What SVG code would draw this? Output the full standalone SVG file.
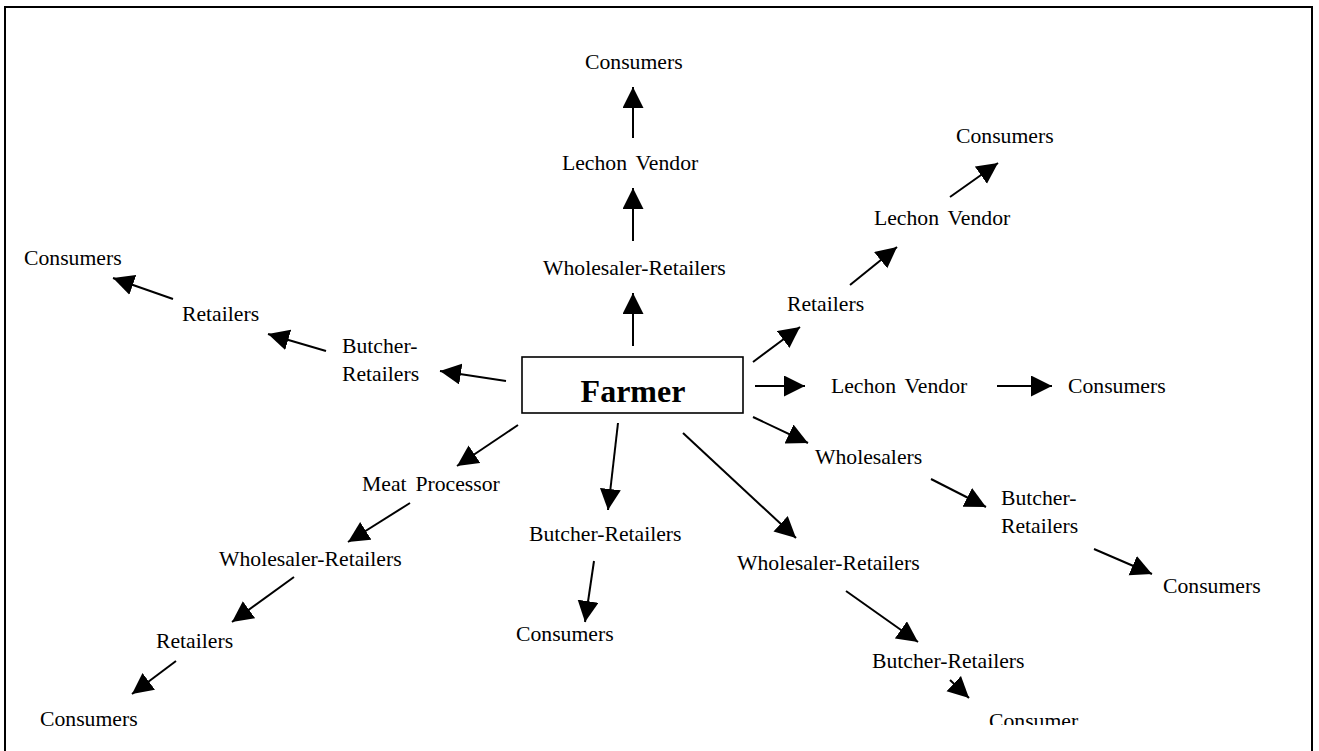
<svg xmlns="http://www.w3.org/2000/svg" width="1319" height="751" viewBox="0 0 1319 751">
<style>
text{font-family:"Liberation Serif","Times New Roman",serif;font-size:21.7px;fill:#000}
.lv{word-spacing:3.5px}
.farmer{font-size:32px;font-weight:bold}
.arr{stroke:#000;stroke-width:2;fill:none;marker-end:url(#ah)}
</style>
<defs>
<marker id="ah" markerUnits="userSpaceOnUse" markerWidth="22" markerHeight="22" refX="21" refY="10.5" orient="auto">
<path d="M0,0 L21,10.5 L0,21 z" fill="#000"/>
</marker>
<clipPath id="clipc"><rect x="900" y="690" width="250" height="35"/></clipPath>
</defs>
<rect width="1319" height="751" fill="#fff"/>
<path d="M5,751 V7 H1312 V751" fill="none" stroke="#000" stroke-width="2"/>

<g id="farmer">
<rect x="522" y="357" width="221" height="56" fill="#fff" stroke="#000" stroke-width="1.6"/>
<text class="farmer" x="633" y="402" text-anchor="middle">Farmer</text>
</g>

<g id="n-top-consumers"><text x="585" y="69">Consumers</text></g>
<g id="n-top-lechon"><text class="lv" x="562" y="170">Lechon Vendor</text></g>
<g id="n-top-wr"><text x="543" y="275">Wholesaler-Retailers</text></g>

<g id="n-l-consumers"><text x="24" y="265">Consumers</text></g>
<g id="n-l-retailers"><text x="182" y="321">Retailers</text></g>
<g id="n-l-butcher"><text x="342" y="353">Butcher-</text><text x="342" y="381">Retailers</text></g>

<g id="n-meat"><text class="lv" x="362" y="491">Meat Processor</text></g>
<g id="n-bl-wr"><text x="219" y="566">Wholesaler-Retailers</text></g>
<g id="n-bl-retailers"><text x="156" y="648">Retailers</text></g>
<g id="n-bl-consumers"><text x="40" y="726">Consumers</text></g>

<g id="n-m-butcher"><text x="529" y="541">Butcher-Retailers</text></g>
<g id="n-m-consumers"><text x="516" y="641">Consumers</text></g>

<g id="n-mr-wr"><text x="737" y="570">Wholesaler-Retailers</text></g>
<g id="n-mr-butcher"><text x="872" y="668">Butcher-Retailers</text></g>
<g id="n-mr-consumer"><text x="989" y="728" clip-path="url(#clipc)">Consumer</text></g>

<g id="n-wholesalers"><text x="815" y="464">Wholesalers</text></g>
<g id="n-r-butcher"><text x="1001" y="505">Butcher-</text><text x="1001" y="533">Retailers</text></g>
<g id="n-r-consumers3"><text x="1163" y="593">Consumers</text></g>

<g id="n-r-lechon"><text class="lv" x="831" y="393">Lechon Vendor</text></g>
<g id="n-r-consumers2"><text x="1068" y="393">Consumers</text></g>

<g id="n-ur-retailers"><text x="787" y="311">Retailers</text></g>
<g id="n-ur-lechon"><text class="lv" x="874" y="225">Lechon Vendor</text></g>
<g id="n-ur-consumers"><text x="956" y="143">Consumers</text></g>

<g id="connectors">
<line class="arr" x1="633" y1="138" x2="633" y2="87"/>
<line class="arr" x1="633" y1="241" x2="633" y2="188"/>
<line class="arr" x1="633" y1="346" x2="633" y2="293"/>
<line class="arr" x1="173" y1="299" x2="113" y2="278"/>
<line class="arr" x1="326" y1="351" x2="268" y2="334"/>
<line class="arr" x1="506" y1="381" x2="440" y2="371"/>
<line class="arr" x1="518" y1="425" x2="457" y2="466"/>
<line class="arr" x1="410" y1="503" x2="348" y2="542"/>
<line class="arr" x1="294" y1="577" x2="232" y2="622"/>
<line class="arr" x1="176" y1="661" x2="132" y2="694"/>
<line class="arr" x1="618" y1="423" x2="608" y2="510"/>
<line class="arr" x1="594" y1="561" x2="585" y2="622"/>
<line class="arr" x1="683" y1="433" x2="796" y2="538"/>
<line class="arr" x1="846" y1="591" x2="918" y2="642"/>
<line class="arr" x1="950" y1="680" x2="969" y2="698"/>
<line class="arr" x1="753" y1="417" x2="808" y2="443"/>
<line class="arr" x1="931" y1="479" x2="986" y2="507"/>
<line class="arr" x1="1094" y1="549" x2="1152" y2="574"/>
<line class="arr" x1="755" y1="386" x2="805" y2="386"/>
<line class="arr" x1="997" y1="386" x2="1052" y2="386"/>
<line class="arr" x1="753" y1="362" x2="800" y2="327"/>
<line class="arr" x1="850" y1="285" x2="897" y2="247"/>
<line class="arr" x1="950" y1="197" x2="998" y2="163"/>
</g>
</svg>
